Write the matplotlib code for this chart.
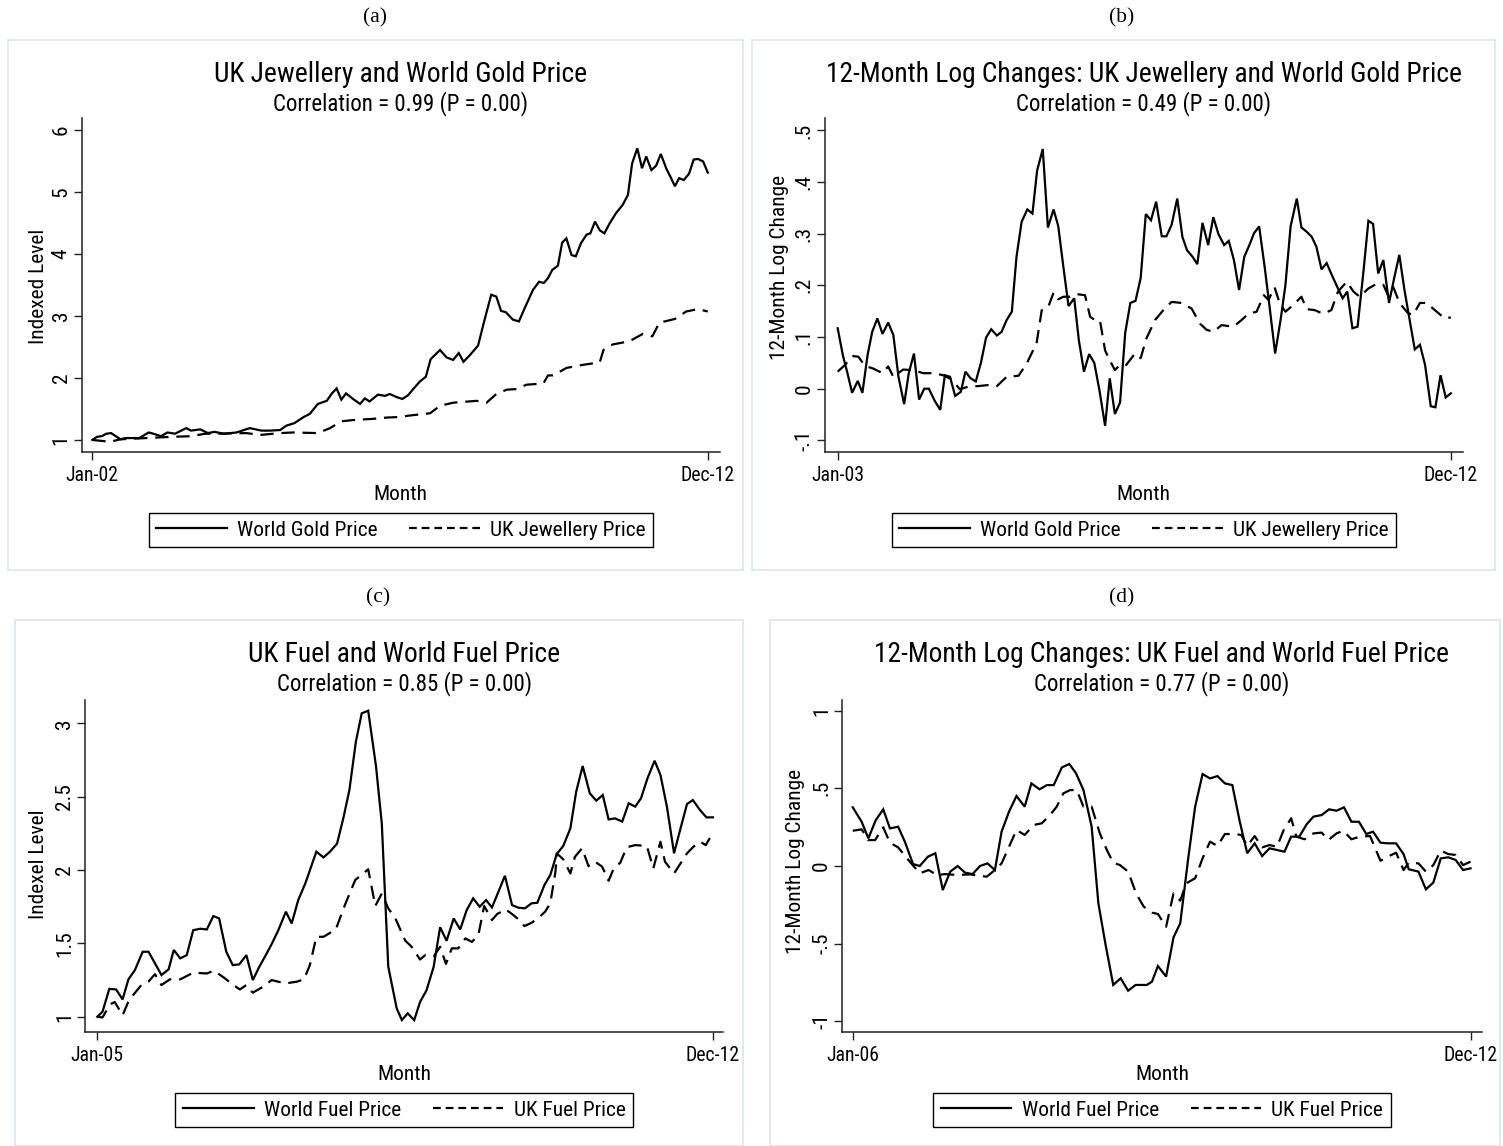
import matplotlib
matplotlib.use('Agg')
import matplotlib.pyplot as plt
from matplotlib import font_manager
from matplotlib.font_manager import FontProperties
from matplotlib.textpath import TextPath
from matplotlib.patches import Rectangle
from matplotlib.lines import Line2D

# ---------------- DATA ----------------
# Panel (a): index levels, months since Jan-02
a_gold_m = [0,1,2,3,4,6,7,10,12,13, 14.6,16,17.6,20,21,23,24.6,26,28,30.7,
            33.5,36,37.8,40,41.3,43,45,46.3,48,49.9, 51,52,53,54,55.5,57,58,59,60.8,62.3,
            63.3,64.8,66,67.2,68.3,69.7,71,72,74,75.4, 76.8,78,79,80.4,82.1,83.5,84.9,86,87,88,
            89.5,90.8,92,93.8,95.1,96.1,97,97.9,99.1,100, 100.9,102,102.9,104,105.2,106,107,108,109,110.1,
            111.5,112.9,114,114.9,116,117,117.9,119,120,121, 122.2,123,124,124.9,125.9,127,128,128.9,130,131]
a_gold_v = [1.0,1.05,1.06,1.10,1.11,1.01,1.03,1.03,1.12,1.10, 1.06,1.12,1.10,1.19,1.15,1.17,1.11,1.13,1.10,1.12,
            1.19,1.15,1.15,1.16,1.23,1.27,1.37,1.42,1.58,1.63, 1.75,1.83,1.65,1.75,1.66,1.58,1.67,1.62,1.73,1.71,
            1.74,1.69,1.66,1.72,1.82,1.94,2.02,2.30,2.45,2.33, 2.29,2.40,2.26,2.37,2.52,2.94,3.34,3.31,3.08,3.06,
            2.94,2.91,3.12,3.42,3.55,3.53,3.61,3.74,3.81,4.18, 4.25,3.98,3.96,4.17,4.31,4.33,4.52,4.38,4.33,4.49,
            4.66,4.79,4.95,5.46,5.70,5.38,5.57,5.35,5.42,5.61, 5.37,5.25,5.09,5.22,5.19,5.29,5.52,5.53,5.49,5.31]
a_jew_m = [0,3.8,6,11.5,17,21,24,27,32.8,35.7, 40,42.7,48,50.6,53,55.5,59.8,62.6,65.5,67.2,
           71.9,74,76.8,81.8,83.9,86,88.2,90.3,92.4,96, 97,98.1,100.9,104.4,108,108.8,110.8,114.3,117.2,119.2,
           120.7,124,126.4,128.9,131]
a_jew_v = [1.0,0.97,1.01,1.03,1.05,1.06,1.10,1.10,1.11,1.08, 1.11,1.12,1.11,1.19,1.30,1.32,1.34,1.36,1.37,1.39,
           1.43,1.55,1.60,1.63,1.60,1.74,1.81,1.82,1.89,1.91, 2.04,2.04,2.16,2.21,2.25,2.45,2.54,2.59,2.71,2.67,
           2.89,2.95,3.07,3.11,3.07]

# Panel (b): 12-month log changes, months since Jan-03
b_gold_m = [0,1,1.9,2.8,3.9,4.8,5.8,6.7,7.7,8.7, 9.8,10.8,11.8,12.9,13.8,14.8,15.8,16.8,17.7,18.8,
            19.9,20.8,21.8,22.8,23.9,24.8,25.8,26.8,27.8,28.8, 29.8,30.9,31.8,32.8,33.8,34.7,35.7,36.8,37.8,38.7,
            39.8,40.8,41.9,42.8,43.8,44.8,45.9,46.8,47.8,48.8, 49.8,50.8,51.9,52.8,53.8,54.8,55.8,56.8,57.8,58.8,
            59.8,60.8,61.8,62.9,63.8,64.8,65.9,66.9,67.8,68.9, 69.8,70.8,71.9,72.9,73.9,75,75.9,76.9,77.9,78.9,
            79.9,80.8,81.8,82.9,83.9,84.9,86,86.9,87.9,89.1, 90,91,92,92.9,93.9,94.9,95.9,97,98,98.9,
            99.9,100.9,102,103,103.9,104.9,105.9,107,108,109, 110,110.9,112,113,114,115.1,116,117,118,119]
b_gold_v = [0.117,0.065,0.030,-0.008,0.015,-0.008,0.065,0.110,0.136,0.106,
            0.128,0.104,0.023,-0.030,0.030,0.068,-0.021,0.0,0.0,-0.023,
            -0.041,0.026,0.023,-0.014,-0.006,0.033,0.020,0.014,0.050,0.099,
            0.115,0.103,0.110,0.133,0.149,0.255,0.323,0.347,0.339,0.422,
            0.464,0.312,0.347,0.315,0.236,0.160,0.175,0.094,0.033,0.067,
            0.050,-0.003,-0.072,0.020,-0.049,-0.027,0.108,0.166,0.170,0.214,
            0.338,0.326,0.362,0.295,0.295,0.317,0.368,0.294,0.268,0.255,
            0.241,0.321,0.278,0.332,0.299,0.278,0.286,0.249,0.191,0.255,
            0.278,0.301,0.314,0.233,0.152,0.068,0.136,0.201,0.314,0.368,
            0.312,0.304,0.294,0.275,0.231,0.243,0.220,0.196,0.175,0.188,
            0.117,0.120,0.223,0.325,0.319,0.223,0.249,0.166,0.214,0.259,
            0.191,0.139,0.076,0.085,0.046,-0.034,-0.036,0.026,-0.017,-0.009]
b_jew_m = [0,1.1,3,4,5.3,6.9,8.7,9.8,10.8,12.7, 14.7,16.6,18.6,20.5,22.1,23.7,25.4,27.3,29.2,30.9,
           32.8,35.1,36.7,38.6,39.6,40.9,41.9,42.8,43.8,45.1, 46.4,48,49,49.9,50.9,51.9,52.8,53.8,54.8,56,
           57.7,58.8,59.9,61.6,63.2,64.8,66.7,68.7,70.3,71.6, 72.9,74.5,76.8,78.4,79.7,81.3,82.7,83.6,84.8,85.8,
           86.9,88.4,90,91,92.6,94.2,95.8,97.1,98.8,100.1, 101.3,103,104.6,105.9,106.8,107.8,109.1,110.7,111.7,113,
           114.3,115.9,117.8,119]
b_jew_v = [0.033,0.043,0.063,0.062,0.044,0.039,0.030,0.043,0.023,0.037,
           0.036,0.030,0.030,0.026,0.018,-0.001,0.004,0.005,0.007,0.005,
           0.023,0.025,0.049,0.088,0.152,0.159,0.186,0.173,0.178,0.178,
           0.183,0.181,0.139,0.133,0.132,0.074,0.055,0.036,0.046,0.046,
           0.068,0.059,0.097,0.133,0.152,0.168,0.166,0.155,0.126,0.114,
           0.110,0.123,0.120,0.133,0.145,0.149,0.181,0.172,0.196,0.165,
           0.149,0.162,0.178,0.154,0.152,0.145,0.152,0.188,0.207,0.188,
           0.178,0.194,0.203,0.201,0.181,0.197,0.165,0.146,0.143,0.166,
           0.166,0.152,0.136,0.138]

# Panel (c): fuel index levels, months since Jan-05
c_world_m = [0,0.8,1.85,2.9,3.9,4.8,5.8,7,7.9,8.9, 9.9,11,11.8,12.8,13.8,14.8,15.9,16.9,17.9,18.8,
             19.9,20.9,21.9,23,24,25,26,26.9,27.9,29.1, 30,31,32.1,33.8,34.9,35.9,37,38,38.9,39.9,
             40.8,41.8,43,43.9,44.9,46.2,47,47.9,48.9,49.8, 50.8,51.9,52.9,53.9,55,56,57,58,59,60,
             60.9,61.9,62.9,64,65,66,67,67.9,69,69.9, 70.9,71.9,73,73.9,74.9,76,77,78,78.9,79.9,
             81,82,83,83.9,84.9,86,86.9,87.9,89,90, 91,91.9,93,94,95]
c_world_v = [1.0,1.034,1.19,1.186,1.118,1.255,1.318,1.443,1.443,1.364,
             1.284,1.323,1.455,1.398,1.42,1.59,1.60,1.595,1.686,1.67,
             1.443,1.352,1.357,1.42,1.25,1.341,1.42,1.495,1.586,1.716,
             1.636,1.795,1.909,2.125,2.086,2.125,2.18,2.36,2.545,2.875,
             3.068,3.086,2.71,2.318,1.341,1.057,0.977,1.023,0.977,1.10,
             1.18,1.34,1.61,1.518,1.67,1.595,1.727,1.807,1.75,1.795,
             1.745,1.852,1.961,1.761,1.743,1.739,1.773,1.777,1.898,1.966,
             2.109,2.164,2.284,2.534,2.709,2.523,2.473,2.511,2.345,2.352,
             2.33,2.455,2.432,2.489,2.625,2.745,2.648,2.432,2.114,2.284,
             2.45,2.477,2.409,2.359,2.359]
c_uk_m = [0,0.8,2,2.7,3.9,4.9,6.8,7.9,8.9,9.9, 11.2,12.8,14.8,16.9,18,19.5,21,22,23,24,
          25.6,26.9,29,30.8,31.9,32.8,33.8,34.9,36.8,38.2, 39.8,41.8,42.9,43.9,44.9,46,47.5,48.5,49.8,50.6,
          51.9,52.9,53.8,54.7,55.7,56.8,57.8,58.8,59.7,60.9, 61.7,63,64,65,65.9,67,68.1,69.1,69.9,70.7,
          70.9,71.9,73,73.7,74.8,75.8,76.8,77.9,78.9,79.7, 80.7,81.7,83,84.8,85.8,86.9,87.6,89,90,91,
          92,93,93.9,95]
c_uk_v = [1.0,0.995,1.086,1.10,1.01,1.114,1.216,1.24,1.29,1.216,
          1.255,1.255,1.30,1.295,1.314,1.268,1.216,1.186,1.216,1.164,
          1.205,1.25,1.227,1.239,1.255,1.352,1.545,1.545,1.595,1.761,
          1.932,2.005,1.755,1.84,1.739,1.67,1.52,1.477,1.39,1.42,
          1.41,1.477,1.36,1.466,1.466,1.534,1.51,1.557,1.755,1.659,
          1.70,1.732,1.70,1.664,1.618,1.64,1.675,1.716,1.773,1.989,
          2.114,2.073,1.977,2.09,2.148,2.027,2.057,2.023,1.927,2.011,
          2.05,2.155,2.17,2.164,2.011,2.193,2.057,1.977,2.045,2.114,
          2.159,2.193,2.17,2.255]

# Panel (d): fuel 12-month log changes, months since Jan-06
d_world_m = [0,1.2,2.1,3.1,4.1,5,6.1,7,8.1,9, 10.1,11.1,12.1,13.1,14.1,15.1,16.1,17.1,18.1,19.1,
             20,21,22,23.1,24,25.1,26.1,27,28.1,29.1, 30,31,32.1,33,34,35,36,37,38,39.5,
             40.2,41,42.1,43.1,44,45.1,46,47,48,49, 50,51,52,53,54,55,56,57,58,58.9,
             60,61,61.9,63,64,65,66,67,68,69, 69.9,70.9,71.9,73,74,74.7,76,77,78,79,
             80,81,82,83]
d_world_v = [0.378,0.285,0.178,0.296,0.365,0.242,0.253,0.157,0.013,0.0,
             0.060,0.082,-0.155,-0.036,0.0,-0.043,-0.052,0.0,0.017,-0.026,
             0.221,0.350,0.451,0.382,0.532,0.494,0.521,0.521,0.635,0.657,
             0.597,0.489,0.253,-0.240,-0.515,-0.766,-0.723,-0.803,-0.766,-0.766,
             -0.745,-0.644,-0.712,-0.459,-0.369,0.060,0.382,0.592,0.564,0.579,
             0.532,0.521,0.285,0.082,0.146,0.064,0.114,0.103,0.092,0.189,
             0.189,0.270,0.318,0.328,0.365,0.356,0.378,0.285,0.285,0.206,
             0.221,0.150,0.146,0.146,0.077,-0.021,-0.036,-0.150,-0.107,0.049,
             0.056,0.039,-0.026,-0.015]
d_uk_m = [0,1.2,2.1,3,4.1,5,6.1,7.3,9,10.2, 11.3,12.4,14,15.8,18,19.1,20,21,22,23.1,
          24.3,25.4,26.5,27.4,28.3,29.2,30.1,31,32.1,33.2, 34.1,35,35.9,37,38.1,39.1,40.2,41,42.1,43.1,
          44,44.8,46,47,48,49,50,51.3,52.2,53, 54,55,56,57,57.9,58.9,59.6,60.7,61.9,63,
          63.9,65,65.9,67,68.1,69.5,70.9,71.9,73,74, 74.7,76,77,78,79,80,81,82,83]
d_uk_v = [0.227,0.236,0.167,0.167,0.249,0.150,0.120,0.049,-0.047,-0.026,
          -0.058,-0.052,-0.058,-0.054,-0.069,-0.026,0.017,0.124,0.232,0.20,
          0.264,0.275,0.328,0.382,0.468,0.489,0.489,0.382,0.382,0.210,
          0.107,0.021,0.006,-0.036,-0.180,-0.262,-0.300,-0.309,-0.391,-0.176,
          -0.223,-0.112,-0.079,0.049,0.157,0.129,0.206,0.206,0.200,0.129,
          0.193,0.120,0.135,0.124,0.232,0.307,0.189,0.172,0.210,0.215,
          0.167,0.210,0.227,0.172,0.189,0.193,0.034,0.060,0.086,-0.026,
          0.021,0.017,-0.036,0.006,0.099,0.077,0.071,0.006,0.028]

a_yticks = [1, 2, 3, 4, 5, 6]
a_ylabels = ["1", "2", "3", "4", "5", "6"]
b_yticks = [-0.1, 0, 0.1, 0.2, 0.3, 0.4, 0.5]
b_ylabels = ["-.1", "0", ".1", ".2", ".3", ".4", ".5"]
c_yticks = [1, 1.5, 2, 2.5, 3]
c_ylabels = ["1", "1.5", "2", "2.5", "3"]
d_yticks = [-1, -0.5, 0, 0.5, 1]
d_ylabels = ["-1", "-.5", "0", ".5", "1"]

# ---------------- FONT (prefer a condensed sans, like the original Arial Narrow) ----------------
W, H = 1503, 1146
_entries = font_manager.fontManager.ttflist
_names = {f.name for f in _entries}

def _has_condensed(name):
    return any(f.name == name and 'condensed' in str(f.stretch) for f in _entries)

candidates = []
for nm in ['Liberation Sans Narrow', 'Arial Narrow', 'Roboto Condensed', 'Noto Sans Condensed',
           'Open Sans Condensed', 'DejaVu Sans Condensed']:
    if nm in _names:
        candidates.append((nm, 'normal'))
for nm in ['Noto Sans', 'Roboto', 'Open Sans', 'DejaVu Sans']:
    if _has_condensed(nm):
        candidates.append((nm, 'condensed'))

SAMPLE = 'UK Jewellery and World Gold Price'
def _w(fam, stretch):
    fp = FontProperties(family=fam, stretch=stretch, size=20)
    return TextPath((0, 0), SAMPLE, prop=fp).get_extents().width

ref_w = _w('Liberation Sans', 'normal')
FAM, STRETCH, K = 'Liberation Sans', 'normal', 1.0
for fam, st in candidates:
    try:
        r = _w(fam, st) / ref_w
    except Exception:
        continue
    if 0.6 < r < 0.95:
        FAM, STRETCH, K = fam, st, 1.0 / r
        break

plt.rcParams['font.family'] = [FAM, 'DejaVu Sans']
plt.rcParams['font.stretch'] = STRETCH
YT = 13.4 * K if K > 1.01 else 14.0   # vertical tick labels are not width-limited

fig = plt.figure(figsize=(W / 100, H / 100), dpi=100)

def fx(px):
    return px / W

def fy(py):
    return 1 - py / H

DASH = (0, (6, 3.5))
LW = 1.6

def panel(label, label_xy, box, axpx, xlim, ylim, xticks, xticklabels, yticks, yticklabels,
          title, subtitle, title_y, ylabel, ylabel_xy, s1, s2, names, legend_y):
    bx0, by0, bx1, by1 = box
    fig.patches.append(Rectangle((fx(bx0), fy(by1)), fx(bx1 - bx0), (by1 - by0) / H,
                                 transform=fig.transFigure, facecolor='none',
                                 edgecolor='#dde5ea', lw=1.2, zorder=-5))
    fig.text(fx(label_xy[0]), fy(label_xy[1]), label, family=['Liberation Serif', 'DejaVu Serif'],
             fontsize=15.5, ha='center', va='center', stretch='normal')
    l, r, t, b = axpx
    ax = fig.add_axes([fx(l), fy(b), fx(r - l), (b - t) / H])
    ax.patch.set_alpha(0)
    ax.plot(s1[0], s1[1], color='black', lw=LW, solid_joinstyle='miter')
    ax.plot(s2[0], s2[1], color='black', lw=LW, linestyle=DASH)
    ax.set_xlim(*xlim)
    ax.set_ylim(*ylim)
    for sp in ['top', 'right']:
        ax.spines[sp].set_visible(False)
    for sp in ['left', 'bottom']:
        ax.spines[sp].set_color('#222222')
        ax.spines[sp].set_linewidth(1.1)
    ax.set_xticks(xticks)
    ax.set_xticklabels(xticklabels, fontsize=12.4 * K)
    ax.set_yticks(yticks)
    ax.set_yticklabels(yticklabels, fontsize=YT, rotation=90, va='center')
    ax.tick_params(direction='out', length=6, width=1.0, color='#222222')
    ax.tick_params(axis='x', pad=4)
    ax.tick_params(axis='y', pad=2)
    ax.set_xlabel('Month', fontsize=13.4 * K, labelpad=0)
    ax.set_ylabel(ylabel, fontsize=13.4 * K, va='center')
    ax.yaxis.set_label_coords((ylabel_xy[0] - l) / (r - l), (b - ylabel_xy[1]) / (b - t))
    cx = (l + r) / 2
    fig.text(fx(cx), fy(title_y), title, fontsize=17.2 * K, ha='center', va='center')
    fig.text(fx(cx), fy(title_y + 29), subtitle, fontsize=14.3 * K, ha='center', va='center')
    h1 = Line2D([], [], color='black', lw=LW)
    h2 = Line2D([], [], color='black', lw=LW, linestyle=(0, (3.5, 2.2)))
    ax.legend([h1, h2], names, loc='center', bbox_to_anchor=(fx(cx), fy(legend_y)),
              bbox_transform=fig.transFigure, ncol=2, frameon=True, fancybox=False,
              edgecolor='black', framealpha=1, fontsize=13.4 * K, handlelength=3.8 / K,
              handletextpad=0.55 / K, columnspacing=1.7 / K, borderpad=0.4 / K, borderaxespad=0)
    ax.get_legend().get_frame().set_linewidth(1.0)
    return ax

panel('(a)', (375, 18), (8, 40, 743, 570), (81.7, 720, 118, 451.7), (-2.26, 133.6), (0.81, 6.19),
      [0, 131], ['Jan-02', 'Dec-12'], a_yticks, a_ylabels,
      'UK Jewellery and World Gold Price', 'Correlation = 0.99 (P = 0.00)', 75, 'Indexed Level', (39, 286),
      (a_gold_m, a_gold_v), (a_jew_m, a_jew_v), ['World Gold Price', 'UK Jewellery Price'], 530)

panel('(b)', (1122, 18), (752, 40, 1495, 570), (825, 1462.7, 118, 451.7), (-2.46, 121.3), (-0.122, 0.524),
      [0, 119], ['Jan-03', 'Dec-12'], b_yticks, b_ylabels,
      '12-Month Log Changes: UK Jewellery and World Gold Price', 'Correlation = 0.49 (P = 0.00)', 75,
      '12-Month Log Change', (780, 267),
      (b_gold_m, b_gold_v), (b_jew_m, b_jew_v), ['World Gold Price', 'UK Jewellery Price'], 530)

panel('(c)', (378, 598), (15, 620, 743, 1146), (85, 723.3, 700, 1031.7), (-1.9, 96.6), (0.898, 3.159),
      [0, 95], ['Jan-05', 'Dec-12'], c_yticks, c_ylabels,
      'UK Fuel and World Fuel Price', 'Correlation = 0.85 (P = 0.00)', 655, 'Indexel Level', (38, 864),
      (c_world_m, c_world_v), (c_uk_m, c_uk_v), ['World Fuel Price', 'UK Fuel Price'], 1110)

panel('(d)', (1122, 598), (770, 620, 1500, 1146), (842.3, 1481.7, 700, 1031.7), (-1.4, 84.5), (-1.067, 1.069),
      [0, 83], ['Jan-06', 'Dec-12'], d_yticks, d_ylabels,
      '12-Month Log Changes: UK Fuel and World Fuel Price', 'Correlation = 0.77 (P = 0.00)', 655,
      '12-Month Log Change', (796, 861),
      (d_world_m, d_world_v), (d_uk_m, d_uk_v), ['World Fuel Price', 'UK Fuel Price'], 1110)

fig.savefig('out.png', dpi=100)
